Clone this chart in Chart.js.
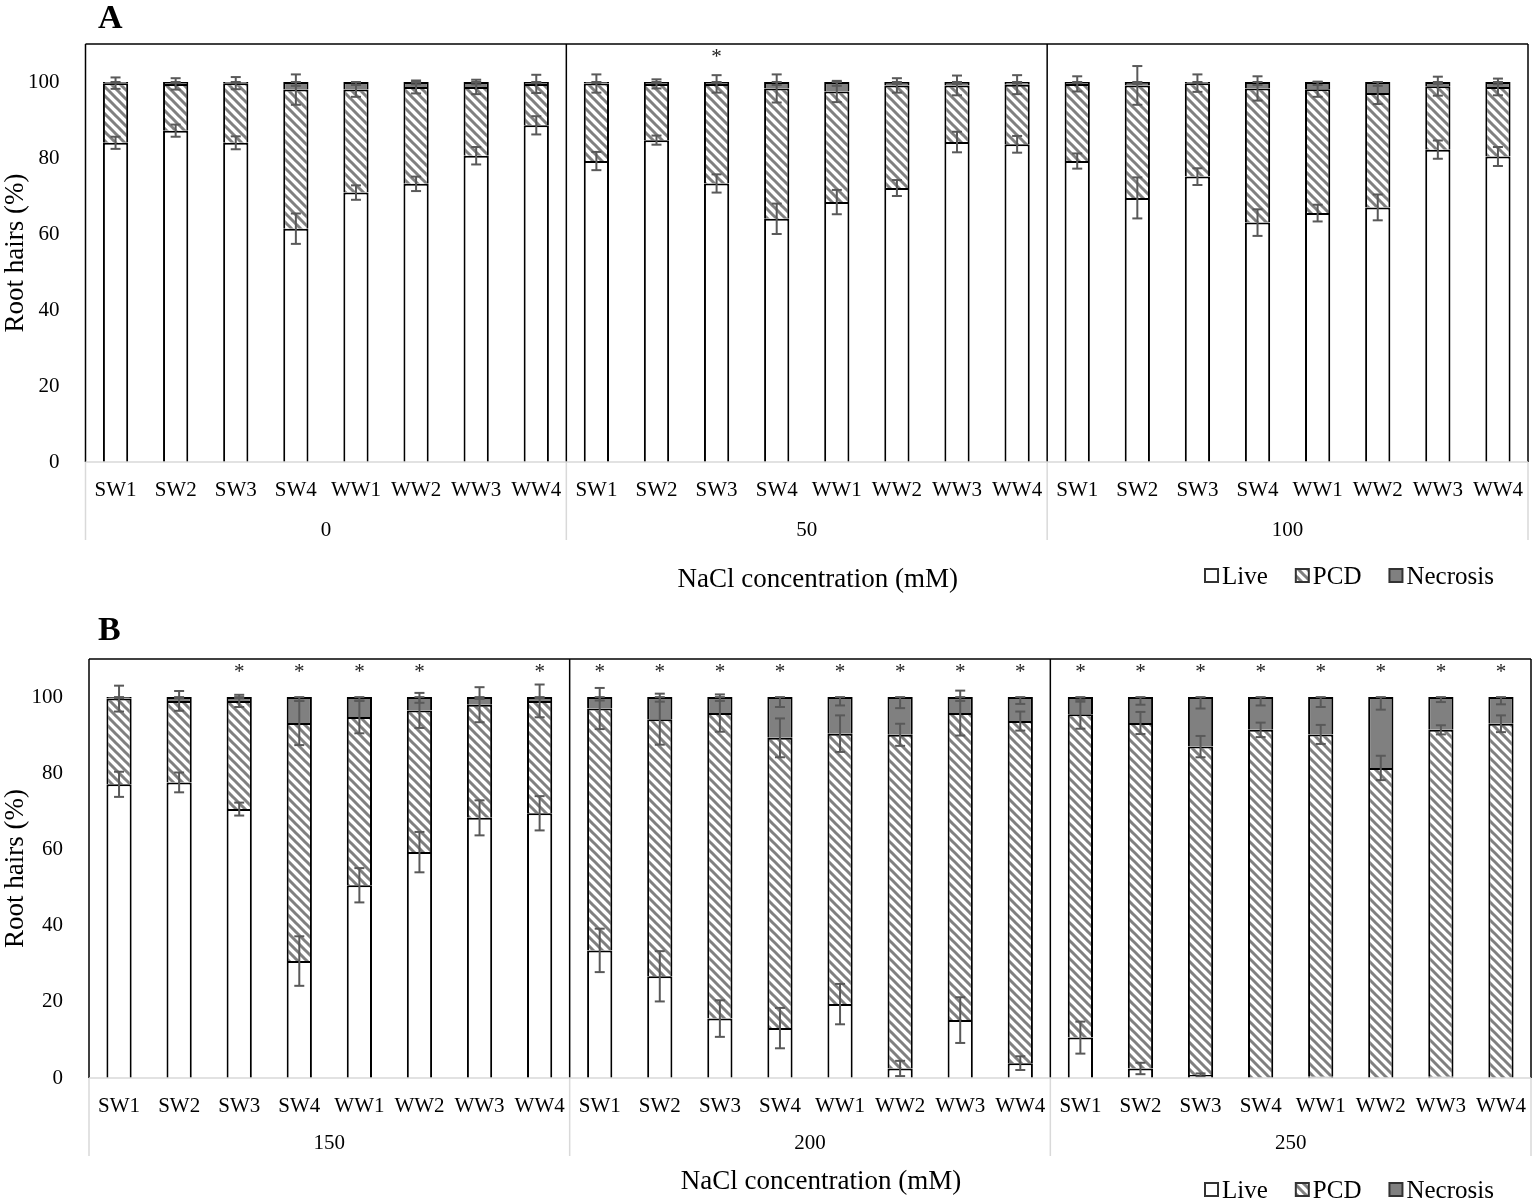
<!DOCTYPE html>
<html>
<head>
<meta charset="utf-8">
<script src="https://cdn.jsdelivr.net/npm/chart.js@4.4.0/dist/chart.umd.min.js"></script>
<style>
  body { margin: 0; background: #fff; }
  canvas { display: block; }
</style>
</head>
<body>
<canvas id="graficoA" width="1535" height="600"></canvas>
<canvas id="graficoB" width="1535" height="600"></canvas>
<script>
// Categorias e grupos (concentração de NaCl)
var categorias = ['SW1', 'SW2', 'SW3', 'SW4', 'WW1', 'WW2', 'WW3', 'WW4'];
var gruposA = ['0', '50', '100'];
var gruposB = ['150', '200', '250'];
var ticksY = [0, 20, 40, 60, 80, 100];

// Painel A - valores (%)
var vivasA = [84.0, 87.2, 84.0, 61.4, 70.9, 73.2, 80.6, 88.6,
              79.2, 84.7, 73.3, 64.0, 68.4, 72.1, 84.2, 83.6,
              79.2, 69.5, 75.1, 63.0, 65.5, 67.0, 82.2, 80.4];
var pcdA = [15.7, 12.3, 15.7, 36.6, 27.1, 25.5, 18.1, 10.9,
            20.4, 14.8, 26.2, 34.3, 29.1, 27.0, 14.9, 15.7,
            20.3, 29.6, 24.6, 35.3, 32.6, 30.1, 16.7, 18.3];
var necroseA = [0.3, 0.5, 0.3, 2.0, 2.0, 1.3, 1.3, 0.5,
                0.4, 0.5, 0.5, 1.7, 2.5, 0.9, 0.9, 0.7,
                0.5, 0.9, 0.3, 1.7, 1.9, 2.9, 1.1, 1.3];
var erroVivasA = [1.6, 1.6, 1.7, 4.0, 1.9, 1.9, 2.3, 2.4,
                  2.4, 1.2, 2.4, 4.0, 3.2, 2.1, 2.7, 2.2,
                  2.0, 5.4, 2.2, 3.5, 2.2, 3.4, 2.4, 2.5];
var erroPcdA = [1.5, 1.5, 1.6, 4.0, 1.9, 1.7, 1.9, 2.4,
                2.4, 1.2, 2.3, 3.7, 2.8, 1.9, 2.6, 2.5,
                2.0, 5.1, 2.3, 3.2, 2.0, 2.9, 2.5, 2.2];
var erroNecroseA = [0.3, 0.3, 0.3, 1.0, 0.8, 0.6, 0.6, 0.3,
                    0.3, 0.3, 0.3, 0.8, 1.0, 0.5, 0.5, 0.4,
                    0.3, 0.5, 0.3, 0.8, 0.8, 1.0, 0.5, 0.6];
var asteriscoA = [0, 0, 0, 0, 0, 0, 0, 0,
                  0, 0, 1, 0, 0, 0, 0, 0,
                  0, 0, 0, 0, 0, 0, 0, 0];

// Painel B - valores (%)
var vivasB = [77.1, 77.6, 70.6, 30.7, 50.6, 59.3, 68.3, 69.5,
              33.5, 26.7, 15.6, 13.1, 19.4, 2.5, 15.2, 3.9,
              10.6, 2.5, 0.8, 0, 0.3, 0, 0.3, 0];
var pcdB = [22.5, 21.4, 28.4, 62.5, 44.2, 37.2, 29.7, 29.5,
            63.5, 67.5, 80.2, 76.2, 71.0, 87.6, 80.6, 89.8,
            84.9, 90.7, 86.2, 91.4, 89.9, 81.4, 91.1, 93.0];
var necroseB = [0.4, 1.0, 1.0, 6.8, 5.2, 3.5, 2.0, 1.0,
                3.0, 5.8, 4.2, 10.7, 9.6, 9.9, 4.2, 6.3,
                4.5, 6.8, 13.0, 8.6, 9.8, 18.6, 8.6, 7.0];
var erroVivasB = [3.3, 2.6, 1.7, 6.5, 4.5, 5.3, 4.6, 4.5,
                  5.7, 6.6, 4.8, 5.3, 5.3, 2.0, 6.0, 1.8,
                  4.2, 1.5, 0.4, 0, 0, 0, 0, 0];
var erroPcdB = [3.4, 2.6, 1.6, 5.8, 4.3, 4.6, 4.6, 4.3,
                5.4, 6.7, 4.9, 5.1, 4.8, 2.9, 5.9, 2.5,
                3.8, 2.9, 2.8, 1.9, 2.5, 3.2, 1.2, 2.2];
var erroNecroseB = [0.3, 0.3, 0.3, 1.0, 1.0, 1.5, 0.5, 0.3,
                    0.9, 1.2, 1.0, 2.6, 2.2, 2.9, 1.0, 1.8,
                    1.2, 2.0, 3.0, 2.2, 2.6, 3.3, 1.3, 1.9];
var asteriscoB = [0, 0, 1, 1, 1, 1, 0, 1,
                  1, 1, 1, 1, 1, 1, 1, 1,
                  1, 1, 1, 1, 1, 1, 1, 1];

var fonte = "'Liberation Serif', 'Times New Roman', serif";

// Padrão hachurado para a série PCD
function criarPadrao(ctx, t) {
    var c = document.createElement('canvas');
    c.width = t; c.height = t;
    var g = c.getContext('2d');
    g.fillStyle = '#fff';
    g.fillRect(0, 0, t, t);
    g.strokeStyle = '#808080';
    g.lineWidth = 3;
    g.beginPath();
    g.moveTo(-2, -2); g.lineTo(t + 2, t + 2);
    g.moveTo(-2, t - 2); g.lineTo(2, t + 2);
    g.moveTo(t - 2, -2); g.lineTo(t + 2, 2);
    g.stroke();
    return ctx.createPattern(c, 'repeat');
}

function linha(g, x1, y1, x2, y2) {
    g.beginPath();
    g.moveTo(x1, y1);
    g.lineTo(x2, y2);
    g.stroke();
}

// Barra de erro com tampas nas duas pontas
function barraErro(g, x, yA, yB) {
    linha(g, x, yA, x, yB);
    linha(g, x - 5, yA, x + 5, yA);
    linha(g, x - 5, yB, x + 5, yB);
}

function criarGrafico(id, painel) {
    var ctx = document.getElementById(id).getContext('2d');
    var hachura = criarPadrao(ctx, 9);

    var rotulos = [];
    painel.grupos.forEach(function () {
        categorias.forEach(function (c) { rotulos.push(c); });
    });

    var desenho = {
        id: 'desenho',
        afterDatasetsDraw: function (chart) {
            var g = chart.ctx;
            var a = chart.chartArea;
            var y = chart.scales.y;
            var barras = chart.getDatasetMeta(0).data;
            g.save();

            // barras de erro
            g.strokeStyle = '#595959';
            g.lineWidth = 2;
            for (var j = 0; j < barras.length; j++) {
                var x = barras[j].x;
                var v1 = painel.vivas[j];
                var v2 = v1 + painel.pcd[j];
                var v3 = v2 + painel.necrose[j];
                if (painel.erroVivas[j] > 0) {
                    barraErro(g, x, y.getPixelForValue(v1 + painel.erroVivas[j]), y.getPixelForValue(v1 - painel.erroVivas[j]));
                }
                barraErro(g, x, y.getPixelForValue(v2 + painel.erroPcd[j]), y.getPixelForValue(v2 - painel.erroPcd[j]));
                barraErro(g, x, y.getPixelForValue(v3), y.getPixelForValue(v3 - painel.erroNecrose[j]));
            }

            // moldura e separadores
            g.strokeStyle = '#000';
            g.lineWidth = 1.5;
            linha(g, a.left, a.top, a.right, a.top);
            linha(g, a.left, a.top, a.left, a.bottom);
            linha(g, a.right, a.top, a.right, a.bottom);
            var passo = (a.right - a.left) / rotulos.length;
            for (var k = 1; k < painel.grupos.length; k++) {
                var xs = a.left + k * categorias.length * passo;
                linha(g, xs, a.top, xs, a.bottom);
            }
            g.strokeStyle = '#d9d9d9';
            linha(g, a.left, a.bottom, a.right, a.bottom);
            for (var m = 0; m <= painel.grupos.length; m++) {
                var xg = a.left + m * categorias.length * passo;
                linha(g, xg, a.bottom, xg, a.bottom + 78);
            }

            // asteriscos
            g.fillStyle = '#222';
            g.font = '21px ' + fonte;
            g.textAlign = 'center';
            g.textBaseline = 'middle';
            for (var n = 0; n < barras.length; n++) {
                if (painel.asterisco[n]) {
                    g.fillText('*', barras[n].x, y.getPixelForValue(106.5));
                }
            }

            // rótulos dos grupos
            g.fillStyle = '#000';
            g.font = '21px ' + fonte;
            painel.grupos.forEach(function (nome, i) {
                var xc = a.left + (i + 0.5) * categorias.length * passo;
                g.fillText(nome, xc, a.bottom + painel.yGrupo);
            });

            // título do eixo X
            g.font = '27px ' + fonte;
            g.fillText('NaCl concentration (mM)', (a.left + a.right) / 2 + 11, a.bottom + painel.yTitulo);

            // letra do painel
            g.font = 'bold 34px ' + fonte;
            g.textAlign = 'left';
            g.fillText(painel.letra, 98, painel.yLetra);

            // legenda
            g.font = '25px ' + fonte;
            var xl = 1205;
            var yl = a.bottom + painel.yLegenda;
            var cores = ['#fff', hachura, '#808080'];
            chart.data.datasets.forEach(function (ds, i) {
                g.fillStyle = cores[i];
                g.fillRect(xl, yl - 7, 13, 13);
                g.strokeStyle = '#333';
                g.lineWidth = 2;
                g.strokeRect(xl, yl - 7, 13, 13);
                g.fillStyle = '#000';
                g.fillText(ds.label, xl + 17, yl + 1);
                xl += 17 + g.measureText(ds.label).width + 28;
            });
            g.restore();
        }
    };

    new Chart(ctx, {
        type: 'bar',
        data: {
            labels: rotulos,
            datasets: [
                { label: 'Live', data: painel.vivas, backgroundColor: '#fff', borderColor: '#000', borderWidth: 2 },
                { label: 'PCD', data: painel.pcd, backgroundColor: hachura, borderColor: '#000', borderWidth: 2 },
                { label: 'Necrosis', data: painel.necrose, backgroundColor: '#808080', borderColor: '#000', borderWidth: 2 }
            ]
        },
        options: {
            responsive: false,
            animation: false,
            layout: { padding: { left: 0, right: painel.direita, top: painel.topo, bottom: 0 } },
            datasets: { bar: { barPercentage: 0.42, categoryPercentage: 1 } },
            plugins: { legend: { display: false }, tooltip: { enabled: false } },
            scales: {
                x: {
                    stacked: true,
                    grid: { display: false },
                    border: { display: false },
                    ticks: { autoSkip: false, maxRotation: 0, padding: 8, color: '#000', font: { family: fonte, size: 21 } },
                    afterFit: function (s) { s.height = painel.alturaX; }
                },
                y: {
                    stacked: true,
                    min: 0,
                    max: 110,
                    grid: { display: false },
                    border: { display: false },
                    afterBuildTicks: function (s) { s.ticks = ticksY.map(function (v) { return { value: v }; }); },
                    ticks: { padding: 18, color: '#000', font: { family: fonte, size: 21 } },
                    title: { display: true, text: 'Root hairs (%)', color: '#000', padding: 0, font: { family: fonte, size: 27 } },
                    afterFit: function (s) { s.width = painel.larguraY; }
                }
            }
        },
        plugins: [desenho]
    });
}

criarGrafico('graficoA', {
    letra: 'A', grupos: gruposA,
    vivas: vivasA, pcd: pcdA, necrose: necroseA,
    erroVivas: erroVivasA, erroPcd: erroPcdA, erroNecrose: erroNecroseA, asterisco: asteriscoA,
    topo: 44, direita: 7, larguraY: 85.5, alturaX: 138,
    yGrupo: 68, yTitulo: 118, yLegenda: 114, yLetra: 19
});

criarGrafico('graficoB', {
    letra: 'B', grupos: gruposB,
    vivas: vivasB, pcd: pcdB, necrose: necroseB,
    erroVivas: erroVivasB, erroPcd: erroPcdB, erroNecrose: erroNecroseB, asterisco: asteriscoB,
    topo: 59, direita: 4, larguraY: 89, alturaX: 122,
    yGrupo: 65, yTitulo: 104, yLegenda: 112, yLetra: 31
});
</script>
</body>
</html>
